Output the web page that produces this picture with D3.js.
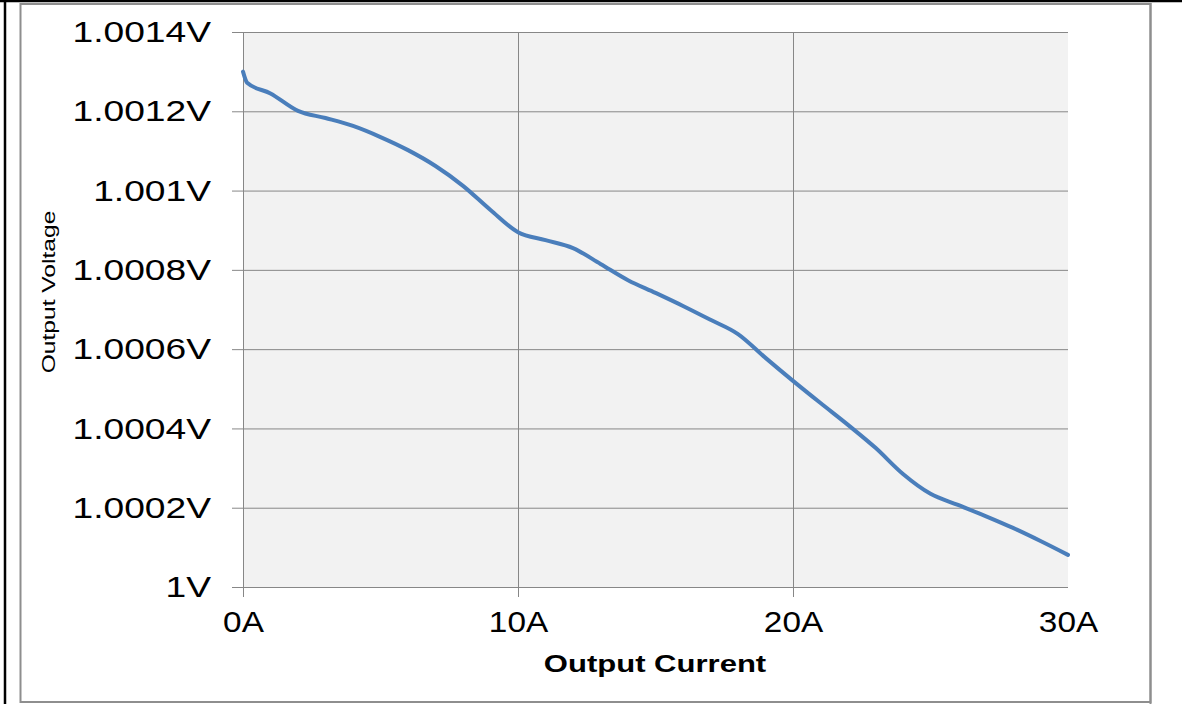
<!DOCTYPE html>
<html>
<head>
<meta charset="utf-8">
<script src="https://cdn.jsdelivr.net/npm/d3@7"></script>
<style>
  html, body { margin: 0; padding: 0; background: #fff; }
  svg { display: block; }
  text { font-family: "Liberation Sans", Arial, sans-serif; fill: #000; }
</style>
</head>
<body>
<svg id="chart" width="1182" height="704"></svg>
<script>
// Load regulation: output voltage vs. output current
const currentA = [0, 0.15, 1, 2, 3, 4, 5, 6, 7, 8, 9, 10, 11, 12, 13, 14, 15, 16, 17, 18, 19, 20, 21, 22, 23, 24, 25, 26, 27, 28, 29, 30];
const voltageV = [1.001300, 1.001272, 1.001245, 1.001201, 1.001183, 1.001163, 1.001135, 1.001102, 1.001062, 1.001012,
                  1.000951, 1.000895, 1.000875, 1.000855, 1.000815, 1.000774, 1.000742, 1.000709, 1.000674, 1.000638,
                  1.000578, 1.000520, 1.000464, 1.000409, 1.000351, 1.000285, 1.000235, 1.000207, 1.000179, 1.000149,
                  1.000116, 1.000081];

const yTickValues = [1, 1.0002, 1.0004, 1.0006, 1.0008, 1.001, 1.0012, 1.0014];
const yTickLabels = ["1V", "1.0002V", "1.0004V", "1.0006V", "1.0008V", "1.001V", "1.0012V", "1.0014V"];
const xTickValues = [0, 10, 20, 30];
const xTickLabels = ["0A", "10A", "20A", "30A"];
const xTitle = "Output Current";
const yTitle = "Output Voltage";

const svg = d3.select("#chart");

// page borders and chart frame
svg.append("line").attr("x1", 0).attr("x2", 1182).attr("y1", 1).attr("y2", 1)
  .attr("stroke", "#000").attr("stroke-width", 2.5);
svg.append("line").attr("x1", 5).attr("x2", 5).attr("y1", 0).attr("y2", 704)
  .attr("stroke", "#000").attr("stroke-width", 2.5);
svg.append("rect").attr("x", 20.5).attr("y", 4).attr("width", 1130).attr("height", 698)
  .attr("fill", "#fff").attr("stroke", "#8e8e8e").attr("stroke-width", 2);
svg.append("line").attr("x1", 1150.5).attr("x2", 1150.5).attr("y1", 3).attr("y2", 704)
  .attr("stroke", "#8e8e8e").attr("stroke-width", 2);

const plot = { left: 243, right: 1068, top: 32, bottom: 587 };
const W = plot.right - plot.left, H = plot.bottom - plot.top;

const x = d3.scaleLinear().domain([0, 30]).range([plot.left, plot.right]);
const y = d3.scaleLinear().domain([1, 1.0014]).range([plot.bottom, plot.top]);

// plot area background
svg.append("rect").attr("x", plot.left).attr("y", plot.top).attr("width", W).attr("height", H)
  .attr("fill", "#f2f2f2");

const gridColor = "#878787";
const stretch = 1.24;

// y axis: grid lines plus outside tick marks
const yAxis = d3.axisLeft(y).tickValues(yTickValues)
  .tickFormat((d, i) => yTickLabels[i])
  .tickSize(-(W + 11)).tickPadding(0);
const gy = svg.append("g").attr("transform", `translate(${plot.left - 11},0)`).call(yAxis);
gy.select(".domain").remove();
gy.selectAll(".tick line").attr("stroke", gridColor).attr("stroke-width", 1);
gy.selectAll(".tick text")
  .attr("font-size", 30)
  .attr("x", -21 / stretch)
  .attr("transform", `scale(${stretch},1)`)
  .attr("fill", "#000");

// x axis: vertical grid lines plus outside tick marks
const xAxis = d3.axisBottom(x).tickValues(xTickValues)
  .tickFormat((d, i) => xTickLabels[i])
  .tickSize(-(H + 10)).tickPadding(0);
const gx = svg.append("g").attr("transform", `translate(0,${plot.bottom + 10})`).call(xAxis);
gx.select(".domain").remove();
gx.selectAll(".tick line").attr("stroke", gridColor).attr("stroke-width", 1)
  .filter(d => d === 30).remove();
gx.selectAll(".tick text")
  .attr("font-size", 29)
  .attr("y", 14)
  .attr("dy", "0.71em")
  .attr("transform", `scale(1.15,1)`)
  .attr("fill", "#000");

// data line
const line = d3.line().x((d, i) => x(currentA[i])).y(d => y(d)).curve(d3.curveMonotoneX);
svg.append("path").datum(voltageV)
  .attr("d", line)
  .attr("fill", "none")
  .attr("stroke", "#4a7ebb")
  .attr("stroke-width", 4)
  .attr("stroke-linejoin", "round")
  .attr("stroke-linecap", "round");

// axis titles
svg.append("text")
  .attr("transform", `translate(${655},${672}) scale(1.35,1)`)
  .attr("text-anchor", "middle")
  .attr("font-size", 23)
  .attr("font-weight", "bold")
  .text(xTitle);

svg.append("text")
  .attr("transform", `translate(${55},${292}) rotate(-90) scale(1.33,1)`)
  .attr("text-anchor", "middle")
  .attr("font-size", 18.5)
  .text(yTitle);
</script>
</body>
</html>
